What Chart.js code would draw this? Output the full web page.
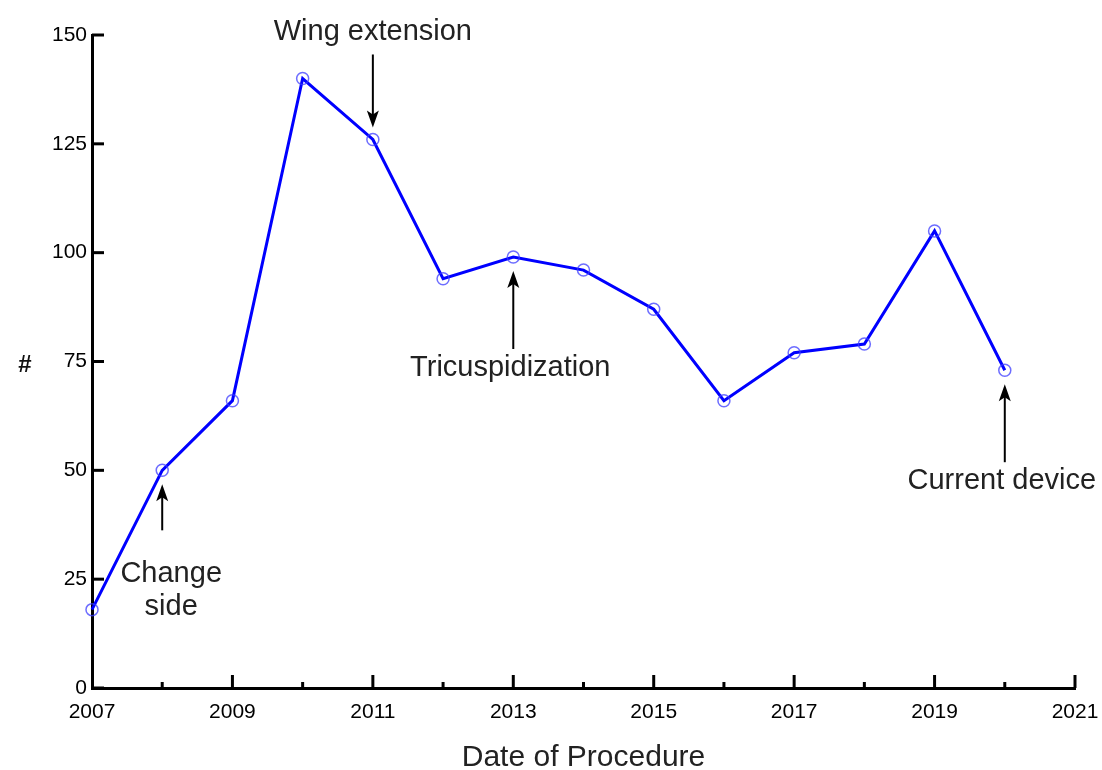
<!DOCTYPE html>
<html>
<head>
<meta charset="utf-8">
<script src="https://cdn.jsdelivr.net/npm/chart.js@4"></script>
<style>
  html, body { margin: 0; padding: 0; background: #fff; }
  #wrap { width: 1102px; height: 770px; position: relative; }
</style>
</head>
<body>
<div id="wrap"><canvas id="chart"></canvas></div>
<script>
// ========== Data ==========
const years = [2007, 2008, 2009, 2010, 2011, 2012, 2013, 2014, 2015, 2016, 2017, 2018, 2019, 2020];
const counts = [18, 50, 66, 140, 126, 94, 99, 96, 87, 66, 77, 79, 105, 73];
const yTicks = [0, 25, 50, 75, 100, 125, 150];
const xLabelYears = [2007, 2009, 2011, 2013, 2015, 2017, 2019, 2021];

// annotations: which year they point at, and which way the arrow goes
const noteText = [["Change", "side"], ["Wing extension"], ["Tricuspidization"], ["Current device"]];
const noteYear = [2008, 2011, 2013, 2020];
const noteSide = ["below", "above", "below", "below"];

const FONT = "'Liberation Sans', Arial, sans-serif";

// ========== Inner ticks + arrows ==========
const decorPlugin = {
  id: "decor",
  afterDraw(chart) {
    const { ctx, scales: { x, y } } = chart;
    ctx.save();
    ctx.strokeStyle = "#000";
    ctx.lineWidth = 3;
    ctx.lineCap = "butt";

    // y ticks, pointing into the plot
    yTicks.forEach((v) => {
      const py = y.getPixelForValue(v);
      ctx.beginPath();
      ctx.moveTo(x.left, py);
      ctx.lineTo(x.left + 12, py);
      ctx.stroke();
    });

    // x ticks: long on odd years, short on even
    for (let yr = 2008; yr <= 2021; yr++) {
      const px = x.getPixelForValue(yr);
      const len = yr % 2 ? 13 : 6;
      ctx.beginPath();
      ctx.moveTo(px, y.bottom);
      ctx.lineTo(px, y.bottom - len);
      ctx.stroke();
    }

    // annotations
    ctx.fillStyle = "#222";
    ctx.font = `29px ${FONT}`;
    ctx.textAlign = "center";
    ctx.textBaseline = "middle";
    noteText.forEach((lines, i) => {
      const idx = years.indexOf(noteYear[i]);
      const px = x.getPixelForValue(noteYear[i]);
      const py = y.getPixelForValue(counts[idx]);
      let tip, tail;
      if (noteSide[i] === "above") {
        tip = py - 12; tail = py - 85;
        ctx.fillText(lines[0], px, py - 107);
      } else {
        tip = py + 14; tail = py + 92;
        if (lines.length > 1) {
          ctx.fillText(lines[0], px + 9, py + 104);
          ctx.fillText(lines[1], px + 9, py + 137);
          tail = py + 60;
        } else {
          ctx.fillText(lines[0], px - 3, py + 111);
        }
      }
      // shaft
      ctx.strokeStyle = "#000";
      ctx.lineWidth = 2;
      const dir = tip < tail ? 1 : -1;
      ctx.beginPath();
      ctx.moveTo(px, tail);
      ctx.lineTo(px, tip + dir * 10);
      ctx.stroke();
      // head
      ctx.fillStyle = "#000";
      ctx.beginPath();
      ctx.moveTo(px, tip);
      ctx.lineTo(px - 6, tip + dir * 17);
      ctx.lineTo(px, tip + dir * 13);
      ctx.lineTo(px + 6, tip + dir * 17);
      ctx.closePath();
      ctx.fill();
      ctx.fillStyle = "#222";
    });

    // y axis title
    ctx.fillStyle = "#111";
    ctx.font = `bold 24px ${FONT}`;
    ctx.fillText("#", 25, (y.top + y.bottom) / 2 + 4);
    ctx.restore();
  },
};

// ========== Chart ==========
const ctx = document.getElementById("chart").getContext("2d");
new Chart(ctx, {
  type: "line",
  data: {
    datasets: [{
      data: years.map((yr, i) => ({ x: yr, y: counts[i] })),
      borderColor: "#0000ff",
      borderWidth: 3,
      tension: 0,
      pointStyle: "circle",
      pointRadius: 6,
      pointBorderWidth: 1.5,
      pointBorderColor: "rgba(60,60,255,0.75)",
      pointBackgroundColor: "rgba(0,0,0,0)",
      clip: false,
    }],
  },
  options: {
    responsive: true,
    maintainAspectRatio: false,
    animation: false,
    layout: { padding: { left: 0, top: 35, right: 27, bottom: 0 } },
    plugins: {
      legend: { display: false },
      tooltip: { enabled: false },
    },
    scales: {
      x: {
        type: "linear",
        min: 2007,
        max: 2021,
        grid: { display: false, drawTicks: false },
        border: { color: "#000", width: 3 },
        afterBuildTicks: (s) => { s.ticks = xLabelYears.map((v) => ({ value: v })); },
        afterFit: (s) => { s.height = 82; s.paddingLeft = 0; s.paddingRight = 0; },
        ticks: {
          autoSkip: false,
          maxRotation: 0,
          padding: 12,
          color: "#000",
          font: { family: FONT, size: 21 },
          callback: (v) => String(v),
        },
        title: {
          display: true,
          text: "Date of Procedure",
          color: "#222",
          font: { family: FONT, size: 30 },
          padding: { top: 0, bottom: -6 },
        },
      },
      y: {
        min: 0,
        max: 150,
        grid: { display: false, drawTicks: false },
        border: { color: "#000", width: 3 },
        afterBuildTicks: (s) => { s.ticks = yTicks.map((v) => ({ value: v })); },
        afterFit: (s) => { s.width = 92; s.paddingTop = 0; s.paddingBottom = 0; },
        ticks: {
          padding: 5,
          color: "#000",
          font: { family: FONT, size: 21 },
        },
      },
    },
  },
  plugins: [decorPlugin],
});
</script>
</body>
</html>
